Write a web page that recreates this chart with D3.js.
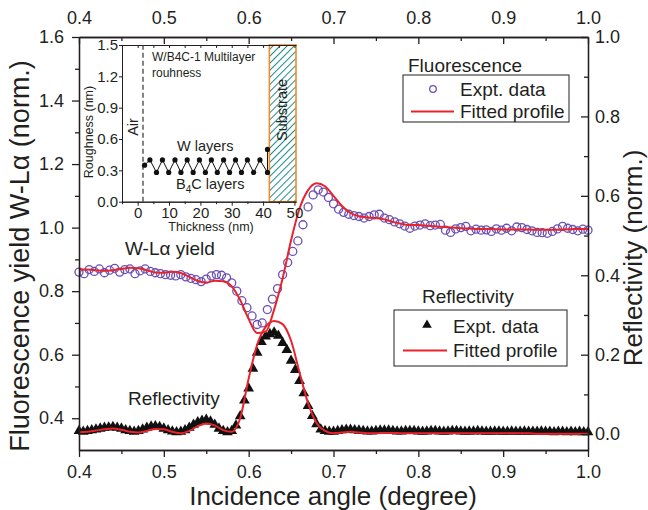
<!DOCTYPE html>
<html>
<head>
<meta charset="utf-8">
<script src="https://cdnjs.cloudflare.com/ajax/libs/d3/7.8.5/d3.min.js"></script>
<style>
body { margin:0; background:#fff; }
svg { display:block; font-family:"Liberation Sans", Arial, sans-serif; }
.axis text { font-size:18px; fill:#231f20; }
.axis path, .axis line { stroke:#231f20; stroke-width:1.3; }
.inset path, .inset line { stroke-width:1; }
</style>
</head>
<body>
<script>
/* fluorescence W-La, measured every 0.006 deg from 0.4 */
var fluoStart = 0.4, fluoStep = 0.006;
var fluoExpt = [
  0.860,0.855,0.868,0.862,0.870,0.858,0.866,0.872,0.860,0.868,
  0.870,0.855,0.864,0.870,0.862,0.858,0.855,0.852,0.850,0.848,
  0.852,0.845,0.840,0.836,0.830,0.838,0.848,0.852,0.850,0.842,
  0.826,0.800,0.770,0.748,0.722,0.695,0.700,0.742,0.775,0.808,
  0.852,0.890,0.925,0.958,1.009,1.065,1.103,1.119,1.112,1.095,
  1.075,1.058,1.048,1.042,1.038,1.035,1.030,1.035,1.040,1.042,
  1.030,1.025,1.018,1.012,1.005,0.998,1.005,1.008,1.012,1.006,
  1.008,1.010,0.992,0.985,0.996,1.000,1.004,0.990,0.995,0.992,
  0.993,0.988,0.996,0.992,0.998,0.990,1.002,1.000,0.994,0.990,
  0.985,0.984,0.982,0.988,0.996,1.004,0.998,0.994,0.990,0.995,
  0.992
];
/* fitted fluorescence, every 0.01 deg */
var fitStart = 0.4, fitStep = 0.01;
var fluoFit = [
  0.868,0.868,0.866,0.864,0.866,0.870,0.874,0.872,0.866,0.859,
  0.858,0.861,0.857,0.845,0.832,0.827,0.833,0.831,0.815,0.772,
  0.712,0.668,0.672,0.742,0.840,0.960,1.060,1.118,1.140,1.130,
  1.100,1.068,1.046,1.036,1.032,1.030,1.026,1.018,1.012,1.008,
  1.008,1.006,1.004,1.002,1.000,0.998,0.997,0.996,0.996,0.995,
  0.994,0.994,0.994,0.994,0.993,0.993,0.993,0.994,0.995,0.996,
  0.996
];
/* reflectivity, measured every 0.005 deg */
var reflStart = 0.4, reflStep = 0.005;
var reflExpt = [
  0.008,0.006,0.008,0.010,0.012,0.014,0.016,0.017,0.018,0.016,
  0.014,0.010,0.008,0.006,0.008,0.012,0.016,0.019,0.020,0.018,
  0.014,0.010,0.007,0.005,0.006,0.010,0.016,0.024,0.030,0.034,
  0.036,0.032,0.024,0.014,0.008,0.005,0.008,0.022,0.045,0.085,
  0.115,0.165,0.205,0.232,0.246,0.252,0.256,0.248,0.230,0.212,
  0.185,0.162,0.134,0.103,0.071,0.046,0.025,0.012,0.008,0.006,
  0.006,0.008,0.010,0.011,0.011,0.010,0.009,0.008,0.007,0.007,
  0.008,0.009,0.009,0.009,0.008,0.007,0.007,0.008,0.008,0.008,
  0.007,0.006,0.007,0.008,0.008,0.007,0.006,0.007,0.008,0.008,
  0.007,0.006,0.007,0.007,0.008,0.007,0.006,0.006,0.007,0.007,
  0.006,0.006,0.007,0.006,0.006,0.007,0.006,0.006,0.006,0.007,
  0.006,0.006,0.005,0.006,0.006,0.005,0.006,0.005,0.006,0.005,
  0.005
];
/* fitted reflectivity, every 0.01 deg */
var reflFit = [
  0.005,0.006,0.009,0.012,0.014,0.011,0.006,0.004,0.008,0.013,
  0.012,0.006,0.002,0.008,0.020,0.027,0.022,0.010,0.006,0.040,
  0.140,0.225,0.270,0.285,0.277,0.235,0.155,0.078,0.028,0.008,
  0.002,0.004,0.006,0.004,0.002,0.002,0.003,0.003,0.002,0.002,
  0.002,0.002,0.002,0.002,0.002,0.002,0.002,0.002,0.002,0.002,
  0.002,0.002,0.002,0.002,0.001,0.001,0.001,0.001,0.001,0.001,
  0.001
];
/* inset: roughness profile of the multilayer */
var layerThick = [2.2,3.9,6.0,7.9,9.9,11.9,13.8,15.8,17.7,19.7,21.6,23.5,25.4,27.4,29.3,31.2,33.1,35.0,37.0,39.0,41.4,41.4];
var layerRough = [0.35,0.40,0.28,0.40,0.28,0.40,0.28,0.40,0.28,0.40,0.28,0.40,0.28,0.40,0.28,0.40,0.28,0.40,0.28,0.40,0.28,0.50];
var airEdge = 1.7;
var substrate = [42, 50.5];

var xTicks = [0.4,0.5,0.6,0.7,0.8,0.9,1.0];
var xMinor = [0.45,0.55,0.65,0.75,0.85,0.95];
var yLTicks = [0.4,0.6,0.8,1.0,1.2,1.4,1.6];
var yLMinor = [0.5,0.7,0.9,1.1,1.3,1.5];
var yRTicks = [0.0,0.2,0.4,0.6,0.8,1.0];
var yRMinor = [0.1,0.3,0.5,0.7,0.9];
var insetXTicks = [0,10,20,30,40,50];
var insetXMinor = [-5,5,15,25,35,45];
var insetYTicks = [0.0,0.3,0.6,0.9,1.2,1.5];

var purple = "#6a4fb4", red = "#e8232b", ink = "#231f20";

var svgContainer = d3.select("body").append("svg")
                    .attr("width", 648)
                    .attr("height", 510);

var x = d3.scaleLinear().domain([0.4, 1.0]).range([79, 588]);
var yL = d3.scaleLinear().domain([0.3, 1.6]).range([450, 37]);
var yR = d3.scaleLinear().domain([-0.04, 1.0]).range([450, 37]);
var fmt = d3.format(".1f");

function toPoints(vals, start, step) {
  return vals.map(function(v, i) { return {a: start + i * step, v: v}; });
}

/*축 그리기*/
function drawAxes() {
  svgContainer.append("g").attr("class","axis").attr("transform","translate(0,450)")
    .call(d3.axisBottom(x).tickValues(xTicks).tickSize(7).tickSizeOuter(0).tickPadding(8).tickFormat(fmt));
  svgContainer.append("g").attr("class","axis").attr("transform","translate(0,450)")
    .call(d3.axisBottom(x).tickValues(xMinor).tickSize(4).tickSizeOuter(0).tickFormat(""));
  svgContainer.append("g").attr("class","axis").attr("transform","translate(0,37)")
    .call(d3.axisTop(x).tickValues(xTicks).tickSizeInner(-7).tickSizeOuter(0).tickPadding(13).tickFormat(fmt));
  svgContainer.append("g").attr("class","axis").attr("transform","translate(0,37)")
    .call(d3.axisTop(x).tickValues(xMinor).tickSizeInner(-4).tickSizeOuter(0).tickFormat(""));
  svgContainer.append("g").attr("class","axis").attr("transform","translate(79,0)")
    .call(d3.axisLeft(yL).tickValues(yLTicks).tickSize(7).tickSizeOuter(0).tickPadding(8).tickFormat(fmt));
  svgContainer.append("g").attr("class","axis").attr("transform","translate(79,0)")
    .call(d3.axisLeft(yL).tickValues(yLMinor).tickSize(4).tickSizeOuter(0).tickFormat(""));
  svgContainer.append("g").attr("class","axis").attr("transform","translate(588,0)")
    .call(d3.axisRight(yR).tickValues(yRTicks).tickSizeInner(-7).tickSizeOuter(0).tickPadding(7).tickFormat(fmt));
  svgContainer.append("g").attr("class","axis").attr("transform","translate(588,0)")
    .call(d3.axisRight(yR).tickValues(yRMinor).tickSizeInner(-4).tickSizeOuter(0).tickFormat(""));

  svgContainer.append("text").attr("x",333).attr("y",505).attr("text-anchor","middle")
    .style("font-size","26px").style("fill",ink).text("Incidence angle (degree)");
  svgContainer.append("text").attr("transform","translate(29,256) rotate(-90)").attr("text-anchor","middle")
    .style("font-size","27px").style("fill",ink).text("Fluorescence yield W-L\u03b1 (norm.)");
  svgContainer.append("text").attr("transform","translate(642,258) rotate(-90)").attr("text-anchor","middle")
    .style("font-size","26px").style("fill",ink).text("Reflectivity (norm.)");
}

/*데이터 그리기*/
function drawData() {
  var fluo = toPoints(fluoExpt, fluoStart, fluoStep);
  var refl = toPoints(reflExpt, reflStart, reflStep);
  var fFit = toPoints(fluoFit, fitStart, fitStep);
  var rFit = toPoints(reflFit, fitStart, fitStep);

  svgContainer.selectAll("circle.fluo").data(fluo).enter()
    .append("circle").attr("class","fluo")
    .attr("cx", function(d){ return x(d.a); })
    .attr("cy", function(d){ return yL(d.v); })
    .attr("r", 4)
    .style("fill","none").style("stroke",purple).style("stroke-width",1.3);

  var tri = d3.symbol().type(d3.symbolTriangle).size(50);
  svgContainer.selectAll("path.refl").data(refl).enter()
    .append("path").attr("class","refl")
    .attr("d", tri)
    .attr("transform", function(d){ return "translate(" + x(d.a) + "," + yR(d.v) + ")"; })
    .style("fill","#111");

  var lineL = d3.line().curve(d3.curveMonotoneX)
    .x(function(d){ return x(d.a); }).y(function(d){ return yL(d.v); });
  var lineR = d3.line().curve(d3.curveMonotoneX)
    .x(function(d){ return x(d.a); }).y(function(d){ return yR(d.v); });
  svgContainer.append("path").attr("d", lineR(rFit))
    .style("fill","none").style("stroke",red).style("stroke-width",2);
  svgContainer.append("path").attr("d", lineL(fFit))
    .style("fill","none").style("stroke",red).style("stroke-width",2);
}

/*범례*/
function drawLegend() {
  svgContainer.append("text").attr("x",408).attr("y",72).style("font-size","19px").style("fill",ink).text("Fluorescence");
  svgContainer.append("rect").attr("x",403).attr("y",75).attr("width",166).attr("height",47)
    .style("fill","#fff").style("stroke",ink).style("stroke-width",1);
  svgContainer.append("circle").attr("cx",433).attr("cy",89).attr("r",3.3)
    .style("fill","none").style("stroke",purple).style("stroke-width",1.3);
  svgContainer.append("text").attr("x",460).attr("y",96).style("font-size","19px").style("fill",ink).text("Expt. data");
  svgContainer.append("line").attr("x1",411).attr("x2",454).attr("y1",111.5).attr("y2",111.5)
    .style("stroke",red).style("stroke-width",2);
  svgContainer.append("text").attr("x",460).attr("y",118).style("font-size","19px").style("fill",ink).text("Fitted profile");

  svgContainer.append("text").attr("x",422).attr("y",303).style("font-size","19px").style("fill",ink).text("Reflectivity");
  svgContainer.append("rect").attr("x",394).attr("y",310).attr("width",173).attr("height",56)
    .style("fill","#fff").style("stroke",ink).style("stroke-width",1);
  svgContainer.append("path").attr("d", d3.symbol().type(d3.symbolTriangle).size(40))
    .attr("transform","translate(427,325)").style("fill","#111");
  svgContainer.append("text").attr("x",453).attr("y",333).style("font-size","19px").style("fill",ink).text("Expt. data");
  svgContainer.append("line").attr("x1",403).attr("x2",447).attr("y1",350.5).attr("y2",350.5)
    .style("stroke",red).style("stroke-width",2);
  svgContainer.append("text").attr("x",453).attr("y",357).style("font-size","19px").style("fill",ink).text("Fitted profile");

  svgContainer.append("text").attr("x",125).attr("y",255).style("font-size","19px").style("fill",ink).text("W-L\u03b1 yield");
  svgContainer.append("text").attr("x",128).attr("y",405).style("font-size","19px").style("fill",ink).text("Reflectivity");
}

/*인셋 그리기*/
function drawInset() {
  var ix = d3.scaleLinear().domain([-5, 50.5]).range([122, 296]);
  var iy = d3.scaleLinear().domain([0, 1.5]).range([201.7, 45]);
  var g = svgContainer.append("g");

  var defs = svgContainer.append("defs");
  var pat = defs.append("pattern").attr("id","hatch").attr("patternUnits","userSpaceOnUse")
    .attr("width",5).attr("height",5).attr("patternTransform","rotate(45)");
  pat.append("line").attr("x1",0).attr("y1",0).attr("x2",0).attr("y2",5)
    .style("stroke","#1f8e8e").style("stroke-width",2);

  g.append("rect").attr("x", ix(substrate[0])).attr("y", iy(1.5))
    .attr("width", ix(substrate[1]) - ix(substrate[0])).attr("height", iy(0) - iy(1.5))
    .style("fill","url(#hatch)").style("stroke","#f28c28").style("stroke-width",1.6);

  g.append("g").attr("class","axis inset").attr("transform","translate(0,201.7)")
    .call(d3.axisBottom(ix).tickValues(insetXTicks).tickSize(4).tickSizeOuter(0).tickPadding(2));
  g.append("g").attr("class","axis inset").attr("transform","translate(0,201.7)")
    .call(d3.axisBottom(ix).tickValues(insetXMinor).tickSize(2.5).tickSizeOuter(0).tickFormat(""));
  g.append("g").attr("class","axis inset").attr("transform","translate(0,45)")
    .call(d3.axisTop(ix).tickValues(insetXTicks.concat(insetXMinor)).tickSizeInner(-3).tickSizeOuter(0).tickFormat(""));
  g.append("g").attr("class","axis inset").attr("transform","translate(122,0)")
    .call(d3.axisLeft(iy).tickValues(insetYTicks).tickSize(3).tickSizeOuter(0).tickPadding(1).tickFormat(fmt));
  g.selectAll(".inset text").style("font-size","15px");

  g.append("line").attr("x1", ix(airEdge)).attr("x2", ix(airEdge)).attr("y1", iy(0)).attr("y2", iy(1.5))
    .style("stroke","#333").style("stroke-width",1.2).style("stroke-dasharray","5,3");

  var pts = layerThick.map(function(t, i){ return {t: t, r: layerRough[i]}; });
  g.append("path").attr("d", d3.line().x(function(d){ return ix(d.t); }).y(function(d){ return iy(d.r); })(pts))
    .style("fill","none").style("stroke","#111").style("stroke-width",1);
  g.selectAll("circle.dot").data(pts).enter().append("circle").attr("class","dot")
    .attr("cx", function(d){ return ix(d.t); }).attr("cy", function(d){ return iy(d.r); })
    .attr("r", 2.6).style("fill","#111");

  g.append("text").attr("x",152).attr("y",61).style("font-size","12px").style("fill",ink).text("W/B4C-1 Multilayer");
  g.append("text").attr("x",152).attr("y",77).style("font-size","12px").style("fill",ink).text("rouhness");
  g.append("text").attr("x",177).attr("y",151).style("font-size","14.5px").style("fill",ink).text("W layers");
  var b4c = g.append("text").attr("x",176).attr("y",189).style("font-size","14.5px").style("fill",ink);
  b4c.append("tspan").text("B");
  b4c.append("tspan").attr("dy",4).style("font-size","10px").text("4");
  b4c.append("tspan").attr("dy",-4).text("C layers");
  g.append("text").attr("transform","translate(138,127) rotate(-90)").attr("text-anchor","middle")
    .style("font-size","14.5px").style("fill",ink).text("Air");
  g.append("text").attr("transform","translate(287,110) rotate(-90)").attr("text-anchor","middle")
    .style("font-size","14.5px").style("fill",ink).text("Substrate");
  g.append("text").attr("x",211).attr("y",231).attr("text-anchor","middle")
    .style("font-size","12.5px").style("fill",ink).text("Thickness (nm)");
  g.append("text").attr("transform","translate(93,132) rotate(-90)").attr("text-anchor","middle")
    .style("font-size","12.5px").style("fill",ink).text("Roughness (nm)");
}

/*시작*/
drawData();
drawAxes();
drawLegend();
drawInset();
</script>
</body>
</html>
